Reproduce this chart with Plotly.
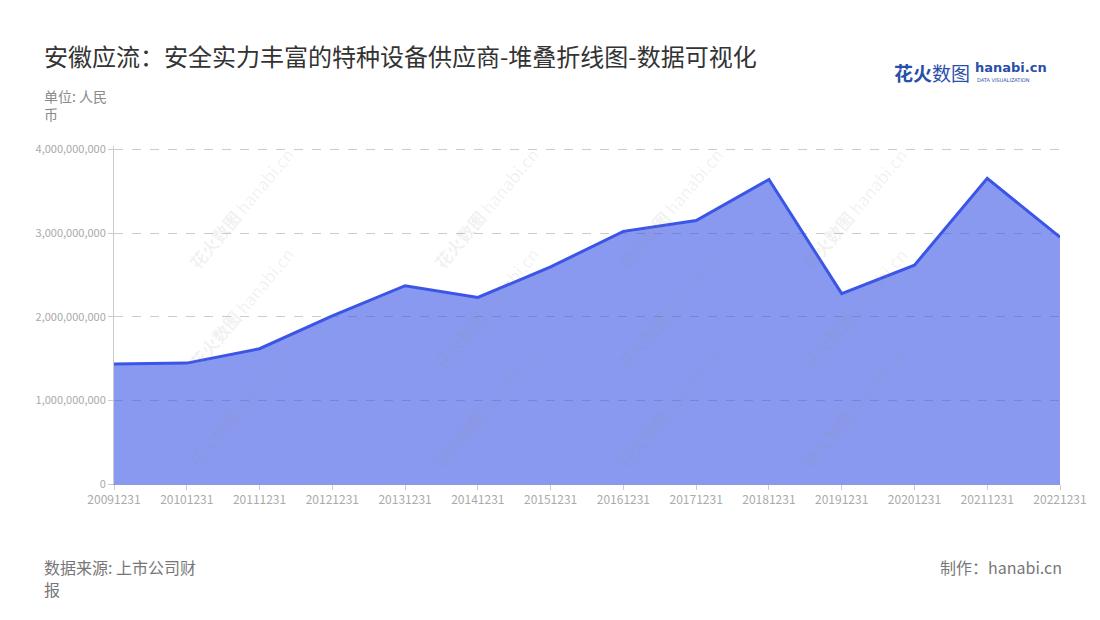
import plotly.graph_objects as go

dates = ["20091231", "20101231", "20111231", "20121231", "20131231", "20141231",
         "20151231", "20161231", "20171231", "20181231", "20191231", "20201231",
         "20211231", "20221231"]
values = [1.433e9, 1.445e9, 1.617e9, 2.01e9, 2.37e9, 2.23e9,
          2.595e9, 3.02e9, 3.15e9, 3.64e9, 2.275e9, 2.615e9,
          3.653e9, 2.95e9]
y_ticks = [0, 1e9, 2e9, 3e9, 4e9]
y_tick_labels = ["0", "1,000,000,000", "2,000,000,000", "3,000,000,000", "4,000,000,000"]

FONT = "Noto Sans CJK SC"
OFF = 8  # page body margin
W, H = 1092, 612
L, R, T, B = 106, 40, 138, 136
pw, ph = W - L - R, H - T - B


def px(x):
    return (x - OFF - L) / pw


def py(y):
    return (H - B - (y - OFF)) / ph


fig = go.Figure()
fig.add_trace(go.Scatter(
    x=dates, y=values, mode="lines",
    line=dict(color="#3b55e6", width=3),
    fill="tozeroy", fillcolor="rgba(59,85,230,0.6)",
    hoverinfo="x+y",
))

annotations = []
# watermarks
for cy in [140, 308, 476]:
    for cx in [180, 425, 670, 915]:
        annotations.append(dict(
            x=px(cx), y=py(cy), xref="paper", yref="paper",
            text="<b>花火数图</b> hanabi.cn", showarrow=False, textangle=-50,
            font=dict(family=FONT, size=17, color="rgba(150,150,150,0.13)"),
        ))


def label(x, y, text, size, color, anchor="left"):
    return dict(x=px(x), y=py(y), xref="paper", yref="paper", xanchor=anchor,
                yanchor="middle", text=text, showarrow=False,
                font=dict(family=FONT, size=size, color=color))


annotations += [
    label(42, 55, "安徽应流：安全实力丰富的特种设备供应商-堆叠折线图-数据可视化", 24, "#333333"),
    label(42, 96, "单位: 人民", 14, "#8a8a8a"),
    label(42, 114, "币", 14, "#8a8a8a"),
    label(42, 567, "数据来源: 上市公司财", 16, "#777777"),
    label(42, 589, "报", 16, "#777777"),
    label(1064, 567, "制作：hanabi.cn", 16, "#777777", anchor="right"),
    label(972, 72, "<b>花火</b>数图", 19, "#2a4fa8", anchor="right"),
    dict(x=px(973), y=py(68), xref="paper", yref="paper", xanchor="left", yanchor="middle",
         text="<b>hanabi.cn</b>", showarrow=False,
         font=dict(family="DejaVu Sans", size=13, color="#2a4fa8")),
    dict(x=px(975), y=py(80), xref="paper", yref="paper", xanchor="left", yanchor="middle",
         text="DATA VISUALIZATION", showarrow=False,
         font=dict(family="DejaVu Sans", size=5, color="#2a4fa8")),
]

fig.update_layout(
    width=W, height=H,
    margin=dict(l=L, r=R, t=T, b=B),
    paper_bgcolor="white", plot_bgcolor="white",
    showlegend=False,
    font=dict(family=FONT),
    annotations=annotations,
    xaxis=dict(
        type="category", range=[0, len(dates) - 1],
        showgrid=False, showline=True, linecolor="#8a9be8", linewidth=1,
        ticks="outside", ticklen=5, tickcolor="#cccccc",
        tickfont=dict(family=FONT, size=12, color="#aaaaaa"),
        tickangle=0,
    ),
    yaxis=dict(
        range=[0, 4.04e9], tickvals=y_ticks, ticktext=y_tick_labels,
        showgrid=True, gridcolor="#cccccc", griddash="dash", gridwidth=1,
        showline=True, linecolor="#cccccc", linewidth=1,
        ticks="outside", ticklen=5, tickcolor="#cccccc",
        tickfont=dict(family=FONT, size=11, color="#aaaaaa"),
        zeroline=False,
    ),
)

fig.write_html("out.html")
